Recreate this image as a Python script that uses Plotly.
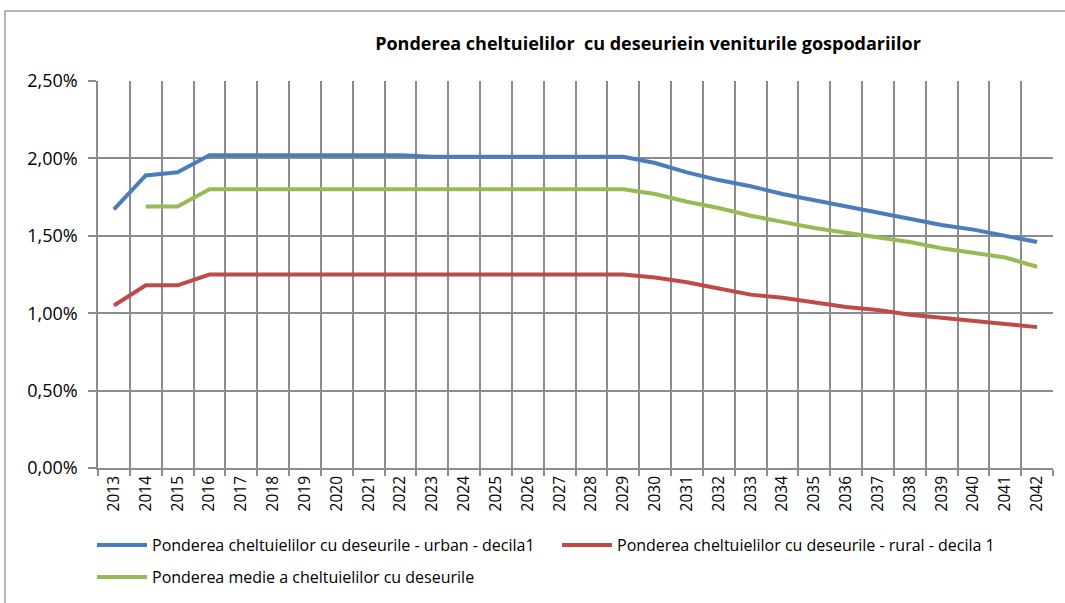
import plotly.graph_objects as go

years = list(range(2013, 2043))

urban_decila1 = [1.67, 1.89, 1.91, 2.02, 2.02, 2.02, 2.02, 2.02, 2.02, 2.02,
                 2.01, 2.01, 2.01, 2.01, 2.01, 2.01, 2.01, 1.97, 1.91, 1.86,
                 1.82, 1.77, 1.73, 1.69, 1.65, 1.61, 1.57, 1.54, 1.50, 1.46]
rural_decila1 = [1.05, 1.18, 1.18, 1.25, 1.25, 1.25, 1.25, 1.25, 1.25, 1.25,
                 1.25, 1.25, 1.25, 1.25, 1.25, 1.25, 1.25, 1.23, 1.20, 1.16,
                 1.12, 1.10, 1.07, 1.04, 1.02, 0.99, 0.97, 0.95, 0.93, 0.91]
medie = [None, 1.69, 1.69, 1.80, 1.80, 1.80, 1.80, 1.80, 1.80, 1.80,
         1.80, 1.80, 1.80, 1.80, 1.80, 1.80, 1.80, 1.77, 1.72, 1.68,
         1.63, 1.59, 1.55, 1.52, 1.49, 1.46, 1.42, 1.39, 1.36, 1.30]

names = ["Ponderea cheltuielilor cu deseurile - urban - decila1",
         "Ponderea cheltuielilor cu deseurile - rural - decila 1",
         "Ponderea medie a cheltuielilor cu deseurile"]
colors = ["#4a7ebb", "#be4b48", "#98b954"]
legends = ["legend", "legend2", "legend3"]
title_text = "Ponderea cheltuielilor  cu deseuriein veniturile gospodariilor"

FONT = "'Open Sans', 'Noto Sans', sans-serif"

fig = go.Figure()
for vals, name, col, lg in zip([urban_decila1, rural_decila1, medie], names, colors, legends):
    fig.add_trace(go.Scatter(
        x=years, y=[v / 100 if v is not None else None for v in vals],
        mode="lines", name=name, legend=lg, showlegend=True,
        line=dict(color=col, width=4),
        connectgaps=False,
    ))

W, H = 1065, 603
L, R, T, B = 98, 12, 81, 135
pw, ph = W - L - R, H - T - B

def px2x(px):
    return (px - L) / pw

def py2y(py):
    return (H - B - py) / ph

def leg(xpx, ypx):
    return dict(orientation="h", xref="container", yref="container",
                x=xpx / W, xanchor="left", y=1 - ypx / H, yanchor="middle",
                font=dict(size=16), itemwidth=50, bgcolor="rgba(0,0,0,0)")

grid = "#8c8c8c"
fig.update_layout(
    width=W, height=H,
    showlegend=True,
    margin=dict(l=L, r=R, t=T, b=B, autoexpand=False),
    paper_bgcolor="white", plot_bgcolor="white",
    font=dict(family=FONT, color="black", size=15),
    separators=",.",
    title=dict(text="<b>" + title_text + "</b>", x=648 / W, xanchor="center",
               y=1 - 44 / H, yanchor="middle", xref="container", yref="container",
               font=dict(size=18, family=FONT)),
    xaxis=dict(
        range=[2012.5, 2042.5], automargin=False,
        tickmode="array", tickvals=years, ticktext=[str(y) for y in years],
        tickangle=-90, showgrid=False, ticks="", showline=True,
        linecolor=grid, linewidth=1.5, tickfont=dict(size=15.5),
        minor=dict(tickmode="linear", tick0=2012.5, dtick=1, showgrid=True,
                   gridcolor=grid, gridwidth=1.5, ticks="outside", ticklen=6,
                   tickcolor=grid, tickwidth=1.5),
        zeroline=False,
    ),
    yaxis=dict(
        range=[0, 0.025], tickmode="linear", tick0=0, dtick=0.005, automargin=False,
        tickformat=".2%", showgrid=True, gridcolor=grid, gridwidth=1.5,
        ticks="outside", ticklen=8, tickcolor=grid, tickwidth=1.5,
        ticklabelstandoff=7,
        showline=True, linecolor=grid, linewidth=1.5, zeroline=False,
        tickfont=dict(size=18),
    ),
    legend=leg(92, 545),
    legend2=leg(557, 545),
    legend3=leg(92, 577),
    shapes=[dict(type="rect", xref="paper", yref="paper",
                 x0=px2x(5), x1=px2x(1090), y0=py2y(640), y1=py2y(11),
                 line=dict(color="#a0a0a0", width=1.5), layer="below")],
)

fig.write_html("out.html", config={"displayModeBar": False},
               post_script="document.body.style.margin='0';")
